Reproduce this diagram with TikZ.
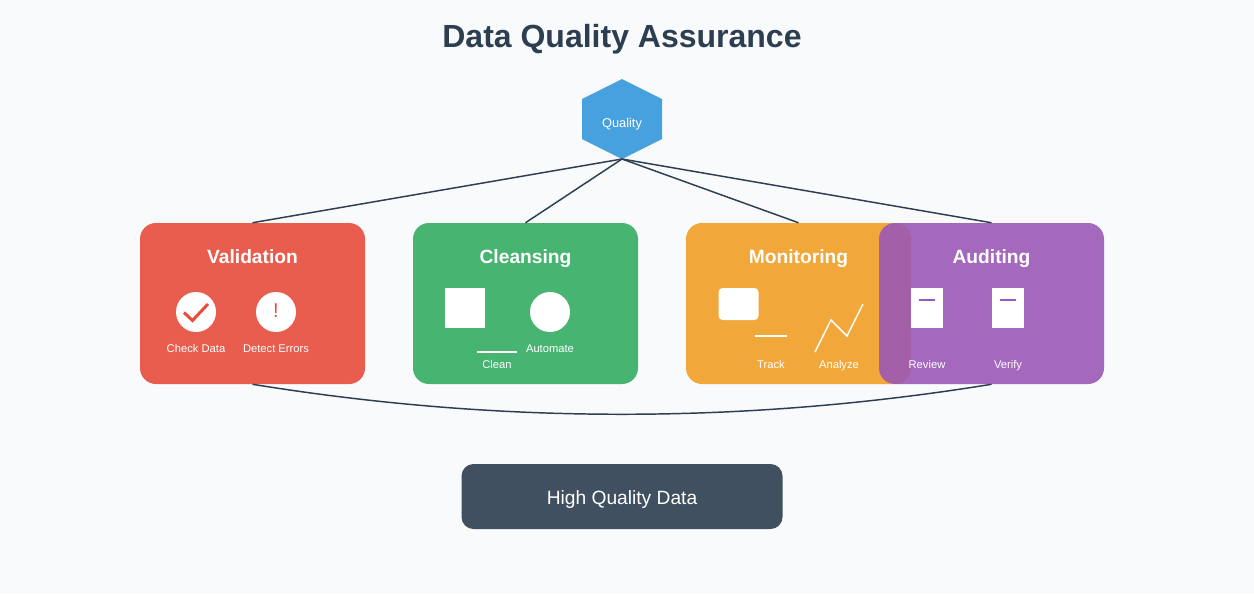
\documentclass[tikz,border=0pt]{standalone}
\usepackage{fontspec}
\setmainfont{Liberation Sans}
\definecolor{inkcol}{HTML}{2C3E50}
\definecolor{bgcol}{HTML}{F8FAFC}
\definecolor{valcol}{HTML}{E74C3C}
\definecolor{clecol}{HTML}{34AD63}
\definecolor{moncol}{HTML}{F29E26}
\definecolor{audcol}{HTML}{9B59B6}
\definecolor{hexcol}{HTML}{3498DB}
\tikzset{
    stagebox/.style={rectangle, rounded corners=12pt, inner sep=0pt, minimum width=168.75pt, minimum height=120.75pt, fill opacity=0.9},
    stagetitle/.style={anchor=base, white, inner sep=0pt, font=\fontsize{14.4}{17}\selectfont\bfseries},
    smalltext/.style={anchor=base, white, inner sep=0pt, font=\fontsize{8.4}{10}\selectfont},
    link/.style={inkcol, line width=1.1pt},
    whiteline/.style={white, line width=1.1pt}
}
\begin{document}
\begin{tikzpicture}[x=0.75pt,y=-0.75pt]
    \fill [bgcol] (0,0) rectangle (1254,594);
    \useasboundingbox (0,0) rectangle (1254,594);

    \node [anchor=base, inkcol, inner sep=0pt, font=\fontsize{24}{28}\selectfont\bfseries] (title) at (622,47) {Data Quality Assurance};

    % hexagon on top
    \fill [hexcol, fill opacity=0.9] (622,79) -- (662,99) -- (662,139) -- (622,159) -- (582,139) -- (582,99) -- cycle;
    \coordinate (hexbottom) at (622,159);
    \node [smalltext, font=\fontsize{9.6}{11}\selectfont] (quality) at (622,127) {Quality};

    % the four stages
    \foreach \nm/\cx/\col/\ttl in {validation/252.5/valcol/Validation, cleansing/525.5/clecol/Cleansing, monitoring/798.5/moncol/Monitoring, auditing/991.5/audcol/Auditing}
    {
    \node [stagebox, fill=\col] (\nm) at (\cx,303.5) {};
    \node [stagetitle] (\nm title) at (\cx,263.5) {\ttl};
    }

    % validation icons
    \fill [white] (196,312) circle (20);
    \fill [white] (276,312) circle (20);
    \draw [valcol, line width=2.25pt] (184,312.5) -- (192.5,320.5) -- (208,304);
    \node [anchor=base, valcol, inner sep=0pt, font=\fontsize{15}{18}\selectfont] (bang) at (276,317.5) {!};
    \node [smalltext] (checklabel) at (196,352) {Check Data};
    \node [smalltext] (detectlabel) at (276,352) {Detect Errors};

    % cleansing icons
    \fill [white] (445,288) rectangle (485,328);
    \fill [white] (550,312) circle (20);
    \draw [whiteline] (477,352) -- (517,352);
    \node [smalltext] (cleanlabel) at (497,368) {Clean};
    \node [smalltext] (automatelabel) at (550,352) {Automate};

    % monitoring icons
    \fill [white, rounded corners=3pt] (718.5,288) rectangle (758.5,320);
    \draw [whiteline] (755,336) -- (787,336);
    \draw [whiteline] (815,352) -- (831,320) -- (847,336) -- (863,304);
    \node [smalltext] (tracklabel) at (771,368) {Track};
    \node [smalltext] (analyzelabel) at (839,368) {Analyze};

    % auditing icons
    \foreach \dx/\nm/\ttl in {911/review/Review, 992/verify/Verify}
    {
    \fill [white] (\dx,288) rectangle +(32,40);
    \draw [audcol, line width=1.1pt] (\dx+8,300) -- +(16,0);
    \node [smalltext] (\nm label) at (\dx+16,368) {\ttl};
    }

    % result
    \node [rectangle, rounded corners=9pt, inner sep=0pt, minimum width=240.75pt, minimum height=48.75pt, fill=inkcol, fill opacity=0.9] (result) at (622,496.5) {};
    \node [anchor=base, white, inner sep=0pt, font=\fontsize{14.4}{17}\selectfont] (resultlabel) at (622,504.5) {High Quality Data};

    % connectors
    \foreach \nm in {validation,cleansing,monitoring,auditing}
    {
    \draw [link] (hexbottom) -- (\nm.north);
    }
    \draw [link] (validation.south) .. controls +(246.7,40) and +(-246.7,40) .. (auditing.south);
\end{tikzpicture}
\end{document}
